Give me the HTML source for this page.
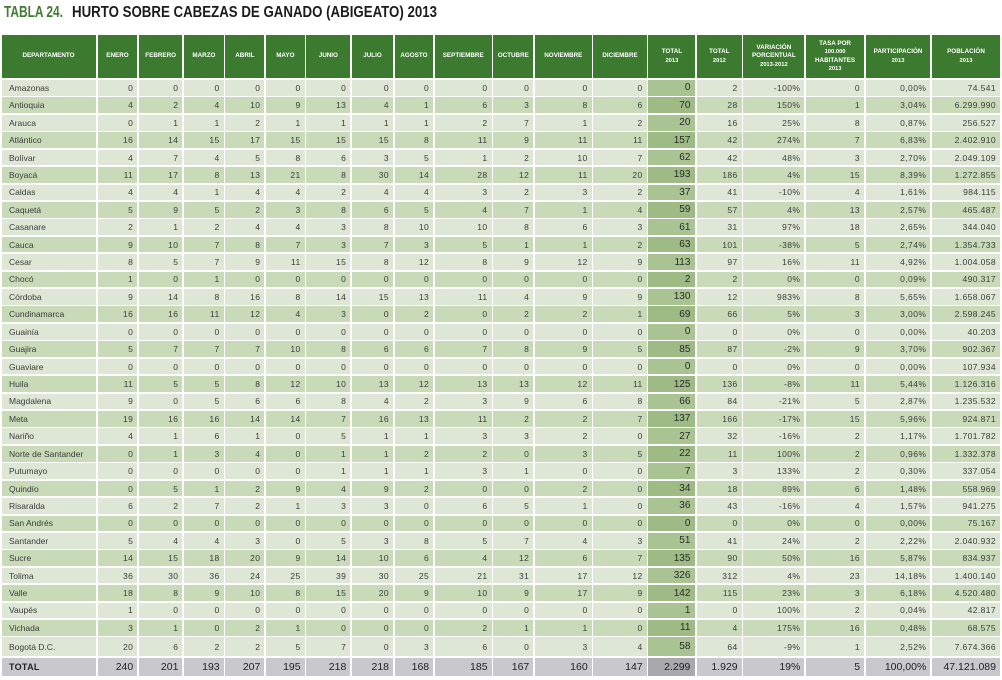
<!DOCTYPE html>
<html>
<head>
<meta charset="utf-8">
<style>
html,body{margin:0;padding:0;background:#fff;}
body{width:1002px;height:680px;position:relative;overflow:hidden;font-family:"Liberation Sans",sans-serif;}
#title{position:absolute;left:0;top:0;}
.g{position:absolute;left:2px;top:35px;display:grid;
grid-template-columns:94px 39.5px 43.5px 39.5px 39px 38.5px 44px 41px 38.4px 56.7px 40px 56.7px 53.3px 47px 44.5px 61px 58px 64.5px 68px;
grid-template-rows:43.26px repeat(32,15.7px) 19px 17.3px;
column-gap:1.72px;row-gap:1.74px;}
.r{display:contents;}
.r>div{display:flex;align-items:center;justify-content:flex-end;padding-right:4px;font-size:8.5px;letter-spacing:0.4px;color:#3c3c3c;white-space:nowrap;overflow:hidden;box-sizing:border-box;}
.r>div:first-child{justify-content:flex-start;padding-left:7px;letter-spacing:0;}
.r.l>div{background:#dee6d6;}
.r.d>div{background:#c9dab9;}
.r.l>div.t{background:#a9c392;}
.r.d>div.t{background:#9ebb86;}
.r>div.t{font-size:10px;letter-spacing:0;color:#2a2a2a;padding-right:5px;}
.h>div{background:#3b7a2f;color:#fff;font-weight:bold;font-size:6.3px;letter-spacing:0;justify-content:center;text-align:center;line-height:8.3px;padding:0 1px;}
.h>div>span{display:block;text-align:center;}
.h>div:first-child{justify-content:center;padding-left:0;}
.h small{font-size:5.8px;}
.r.tot>div{background:#c9c9cd;font-size:10.5px;letter-spacing:0;color:#222;}
.r.tot>div.t{background:#a9a9ad;}
.r.tot>div:first-child{font-weight:bold;font-size:9px;letter-spacing:0.3px;}
</style>
</head>
<body>
<svg id="title" width="1002" height="30" xmlns="http://www.w3.org/2000/svg">
<text x="4" y="17" font-family="Liberation Sans, sans-serif" font-weight="bold" font-size="16" fill="#3f7b32" textLength="59" lengthAdjust="spacingAndGlyphs">TABLA 24.</text>
<text x="72" y="17" font-family="Liberation Sans, sans-serif" font-weight="bold" font-size="16" fill="#1c1c1c" textLength="365" lengthAdjust="spacingAndGlyphs">HURTO SOBRE CABEZAS DE GANADO (ABIGEATO) 2013</text>
</svg>
<div class="g">
<div class="r h"><div><span>DEPARTAMENTO</span></div><div><span>ENERO</span></div><div><span>FEBRERO</span></div><div><span>MARZO</span></div><div><span>ABRIL</span></div><div><span>MAYO</span></div><div><span>JUNIO</span></div><div><span>JULIO</span></div><div><span>AGOSTO</span></div><div><span>SEPTIEMBRE</span></div><div><span>OCTUBRE</span></div><div><span>NOVIEMBRE</span></div><div><span>DICIEMBRE</span></div><div><span>TOTAL<br><small>2013</small></span></div><div><span>TOTAL<br><small>2012</small></span></div><div><span>VARIACIÓN<br>PORCENTUAL<br><small>2013-2012</small></span></div><div><span>TASA POR<br><small>100.000</small><br>HABITANTES<br><small>2013</small></span></div><div><span>PARTICIPACIÓN<br><small>2013</small></span></div><div><span>POBLACIÓN<br><small>2013</small></span></div></div>
<div class="r l"><div>Amazonas</div><div>0</div><div>0</div><div>0</div><div>0</div><div>0</div><div>0</div><div>0</div><div>0</div><div>0</div><div>0</div><div>0</div><div>0</div><div class="t">0</div><div>2</div><div>-100%</div><div>0</div><div>0,00%</div><div>74.541</div></div>
<div class="r d"><div>Antioquia</div><div>4</div><div>2</div><div>4</div><div>10</div><div>9</div><div>13</div><div>4</div><div>1</div><div>6</div><div>3</div><div>8</div><div>6</div><div class="t">70</div><div>28</div><div>150%</div><div>1</div><div>3,04%</div><div>6.299.990</div></div>
<div class="r l"><div>Arauca</div><div>0</div><div>1</div><div>1</div><div>2</div><div>1</div><div>1</div><div>1</div><div>1</div><div>2</div><div>7</div><div>1</div><div>2</div><div class="t">20</div><div>16</div><div>25%</div><div>8</div><div>0,87%</div><div>256.527</div></div>
<div class="r d"><div>Atlántico</div><div>16</div><div>14</div><div>15</div><div>17</div><div>15</div><div>15</div><div>15</div><div>8</div><div>11</div><div>9</div><div>11</div><div>11</div><div class="t">157</div><div>42</div><div>274%</div><div>7</div><div>6,83%</div><div>2.402.910</div></div>
<div class="r l"><div>Bolívar</div><div>4</div><div>7</div><div>4</div><div>5</div><div>8</div><div>6</div><div>3</div><div>5</div><div>1</div><div>2</div><div>10</div><div>7</div><div class="t">62</div><div>42</div><div>48%</div><div>3</div><div>2,70%</div><div>2.049.109</div></div>
<div class="r d"><div>Boyacá</div><div>11</div><div>17</div><div>8</div><div>13</div><div>21</div><div>8</div><div>30</div><div>14</div><div>28</div><div>12</div><div>11</div><div>20</div><div class="t">193</div><div>186</div><div>4%</div><div>15</div><div>8,39%</div><div>1.272.855</div></div>
<div class="r l"><div>Caldas</div><div>4</div><div>4</div><div>1</div><div>4</div><div>4</div><div>2</div><div>4</div><div>4</div><div>3</div><div>2</div><div>3</div><div>2</div><div class="t">37</div><div>41</div><div>-10%</div><div>4</div><div>1,61%</div><div>984.115</div></div>
<div class="r d"><div>Caquetá</div><div>5</div><div>9</div><div>5</div><div>2</div><div>3</div><div>8</div><div>6</div><div>5</div><div>4</div><div>7</div><div>1</div><div>4</div><div class="t">59</div><div>57</div><div>4%</div><div>13</div><div>2,57%</div><div>465.487</div></div>
<div class="r l"><div>Casanare</div><div>2</div><div>1</div><div>2</div><div>4</div><div>4</div><div>3</div><div>8</div><div>10</div><div>10</div><div>8</div><div>6</div><div>3</div><div class="t">61</div><div>31</div><div>97%</div><div>18</div><div>2,65%</div><div>344.040</div></div>
<div class="r d"><div>Cauca</div><div>9</div><div>10</div><div>7</div><div>8</div><div>7</div><div>3</div><div>7</div><div>3</div><div>5</div><div>1</div><div>1</div><div>2</div><div class="t">63</div><div>101</div><div>-38%</div><div>5</div><div>2,74%</div><div>1.354.733</div></div>
<div class="r l"><div>Cesar</div><div>8</div><div>5</div><div>7</div><div>9</div><div>11</div><div>15</div><div>8</div><div>12</div><div>8</div><div>9</div><div>12</div><div>9</div><div class="t">113</div><div>97</div><div>16%</div><div>11</div><div>4,92%</div><div>1.004.058</div></div>
<div class="r d"><div>Chocó</div><div>1</div><div>0</div><div>1</div><div>0</div><div>0</div><div>0</div><div>0</div><div>0</div><div>0</div><div>0</div><div>0</div><div>0</div><div class="t">2</div><div>2</div><div>0%</div><div>0</div><div>0,09%</div><div>490.317</div></div>
<div class="r l"><div>Córdoba</div><div>9</div><div>14</div><div>8</div><div>16</div><div>8</div><div>14</div><div>15</div><div>13</div><div>11</div><div>4</div><div>9</div><div>9</div><div class="t">130</div><div>12</div><div>983%</div><div>8</div><div>5,65%</div><div>1.658.067</div></div>
<div class="r d"><div>Cundinamarca</div><div>16</div><div>16</div><div>11</div><div>12</div><div>4</div><div>3</div><div>0</div><div>2</div><div>0</div><div>2</div><div>2</div><div>1</div><div class="t">69</div><div>66</div><div>5%</div><div>3</div><div>3,00%</div><div>2.598.245</div></div>
<div class="r l"><div>Guainía</div><div>0</div><div>0</div><div>0</div><div>0</div><div>0</div><div>0</div><div>0</div><div>0</div><div>0</div><div>0</div><div>0</div><div>0</div><div class="t">0</div><div>0</div><div>0%</div><div>0</div><div>0,00%</div><div>40.203</div></div>
<div class="r d"><div>Guajira</div><div>5</div><div>7</div><div>7</div><div>7</div><div>10</div><div>8</div><div>6</div><div>6</div><div>7</div><div>8</div><div>9</div><div>5</div><div class="t">85</div><div>87</div><div>-2%</div><div>9</div><div>3,70%</div><div>902.367</div></div>
<div class="r l"><div>Guaviare</div><div>0</div><div>0</div><div>0</div><div>0</div><div>0</div><div>0</div><div>0</div><div>0</div><div>0</div><div>0</div><div>0</div><div>0</div><div class="t">0</div><div>0</div><div>0%</div><div>0</div><div>0,00%</div><div>107.934</div></div>
<div class="r d"><div>Huila</div><div>11</div><div>5</div><div>5</div><div>8</div><div>12</div><div>10</div><div>13</div><div>12</div><div>13</div><div>13</div><div>12</div><div>11</div><div class="t">125</div><div>136</div><div>-8%</div><div>11</div><div>5,44%</div><div>1.126.316</div></div>
<div class="r l"><div>Magdalena</div><div>9</div><div>0</div><div>5</div><div>6</div><div>6</div><div>8</div><div>4</div><div>2</div><div>3</div><div>9</div><div>6</div><div>8</div><div class="t">66</div><div>84</div><div>-21%</div><div>5</div><div>2,87%</div><div>1.235.532</div></div>
<div class="r d"><div>Meta</div><div>19</div><div>16</div><div>16</div><div>14</div><div>14</div><div>7</div><div>16</div><div>13</div><div>11</div><div>2</div><div>2</div><div>7</div><div class="t">137</div><div>166</div><div>-17%</div><div>15</div><div>5,96%</div><div>924.871</div></div>
<div class="r l"><div>Nariño</div><div>4</div><div>1</div><div>6</div><div>1</div><div>0</div><div>5</div><div>1</div><div>1</div><div>3</div><div>3</div><div>2</div><div>0</div><div class="t">27</div><div>32</div><div>-16%</div><div>2</div><div>1,17%</div><div>1.701.782</div></div>
<div class="r d"><div>Norte de Santander</div><div>0</div><div>1</div><div>3</div><div>4</div><div>0</div><div>1</div><div>1</div><div>2</div><div>2</div><div>0</div><div>3</div><div>5</div><div class="t">22</div><div>11</div><div>100%</div><div>2</div><div>0,96%</div><div>1.332.378</div></div>
<div class="r l"><div>Putumayo</div><div>0</div><div>0</div><div>0</div><div>0</div><div>0</div><div>1</div><div>1</div><div>1</div><div>3</div><div>1</div><div>0</div><div>0</div><div class="t">7</div><div>3</div><div>133%</div><div>2</div><div>0,30%</div><div>337.054</div></div>
<div class="r d"><div>Quindío</div><div>0</div><div>5</div><div>1</div><div>2</div><div>9</div><div>4</div><div>9</div><div>2</div><div>0</div><div>0</div><div>2</div><div>0</div><div class="t">34</div><div>18</div><div>89%</div><div>6</div><div>1,48%</div><div>558.969</div></div>
<div class="r l"><div>Risaralda</div><div>6</div><div>2</div><div>7</div><div>2</div><div>1</div><div>3</div><div>3</div><div>0</div><div>6</div><div>5</div><div>1</div><div>0</div><div class="t">36</div><div>43</div><div>-16%</div><div>4</div><div>1,57%</div><div>941.275</div></div>
<div class="r d"><div>San Andrés</div><div>0</div><div>0</div><div>0</div><div>0</div><div>0</div><div>0</div><div>0</div><div>0</div><div>0</div><div>0</div><div>0</div><div>0</div><div class="t">0</div><div>0</div><div>0%</div><div>0</div><div>0,00%</div><div>75.167</div></div>
<div class="r l"><div>Santander</div><div>5</div><div>4</div><div>4</div><div>3</div><div>0</div><div>5</div><div>3</div><div>8</div><div>5</div><div>7</div><div>4</div><div>3</div><div class="t">51</div><div>41</div><div>24%</div><div>2</div><div>2,22%</div><div>2.040.932</div></div>
<div class="r d"><div>Sucre</div><div>14</div><div>15</div><div>18</div><div>20</div><div>9</div><div>14</div><div>10</div><div>6</div><div>4</div><div>12</div><div>6</div><div>7</div><div class="t">135</div><div>90</div><div>50%</div><div>16</div><div>5,87%</div><div>834.937</div></div>
<div class="r l"><div>Tolima</div><div>36</div><div>30</div><div>36</div><div>24</div><div>25</div><div>39</div><div>30</div><div>25</div><div>21</div><div>31</div><div>17</div><div>12</div><div class="t">326</div><div>312</div><div>4%</div><div>23</div><div>14,18%</div><div>1.400.140</div></div>
<div class="r d"><div>Valle</div><div>18</div><div>8</div><div>9</div><div>10</div><div>8</div><div>15</div><div>20</div><div>9</div><div>10</div><div>9</div><div>17</div><div>9</div><div class="t">142</div><div>115</div><div>23%</div><div>3</div><div>6,18%</div><div>4.520.480</div></div>
<div class="r l"><div>Vaupés</div><div>1</div><div>0</div><div>0</div><div>0</div><div>0</div><div>0</div><div>0</div><div>0</div><div>0</div><div>0</div><div>0</div><div>0</div><div class="t">1</div><div>0</div><div>100%</div><div>2</div><div>0,04%</div><div>42.817</div></div>
<div class="r d"><div>Vichada</div><div>3</div><div>1</div><div>0</div><div>2</div><div>1</div><div>0</div><div>0</div><div>0</div><div>2</div><div>1</div><div>1</div><div>0</div><div class="t">11</div><div>4</div><div>175%</div><div>16</div><div>0,48%</div><div>68.575</div></div>
<div class="r l"><div>Bogotá D.C.</div><div>20</div><div>6</div><div>2</div><div>2</div><div>5</div><div>7</div><div>0</div><div>3</div><div>6</div><div>0</div><div>3</div><div>4</div><div class="t">58</div><div>64</div><div>-9%</div><div>1</div><div>2,52%</div><div>7.674.366</div></div>
<div class="r tot"><div>TOTAL</div><div>240</div><div>201</div><div>193</div><div>207</div><div>195</div><div>218</div><div>218</div><div>168</div><div>185</div><div>167</div><div>160</div><div>147</div><div class="t">2.299</div><div>1.929</div><div>19%</div><div>5</div><div>100,00%</div><div>47.121.089</div></div>
</div>
</body>
</html>
